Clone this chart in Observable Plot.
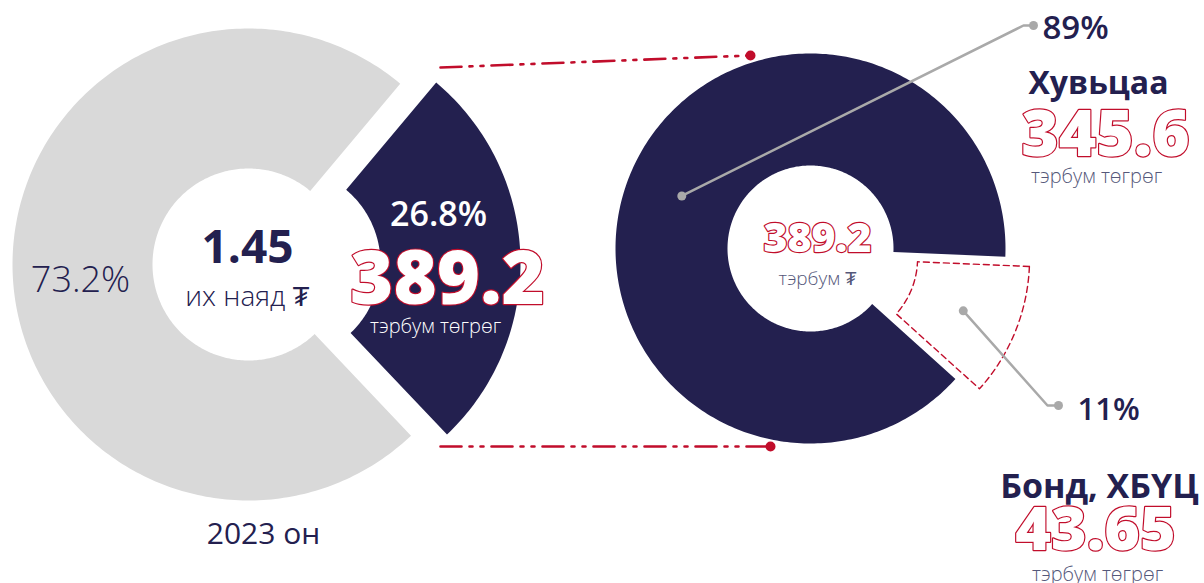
<!DOCTYPE html>
<html><head><meta charset="utf-8">
<script src="https://cdn.jsdelivr.net/npm/d3@7"></script>
<script src="https://cdn.jsdelivr.net/npm/@observablehq/plot@0.6"></script>
<style>html,body{margin:0;padding:0;background:#fff;} svg{display:block}</style>
</head><body><div id="chart"></div>
<script>
// ---- data ----
const yearLabel = "2023 он";
const totalTrillion = 1.45;
const totalUnit = "их наяд ₮";
const overviewCategories = ["Бусад", "Хувьцаа, бонд"];
const overviewShares = [73.2, 26.8];
const securitiesAmount = 389.2;
const amountUnit = "тэрбум төгрөг";
const shortUnit = "тэрбум ₮";
const breakdownCategories = ["Хувьцаа", "Бонд, ХБҮЦ"];
const breakdownShares = [89, 11];
const breakdownAmounts = [345.6, 43.65];

// ---- layout / style ----
const W = 1204, H = 583, deg = Math.PI / 180;
const NAVY = "#23204f", GREY = "#d9d9d9", RED = "#c10d2b", LEADER = "#a9a9a9", MUTED = "#55587a";
const leftPie = {cx: 248, cy: 264, R: 236, r: 96, start: 40 * deg, explode: 36};
const rightPie = {cx: 810, cy: 248, R: 195, r: 83, start: 92.4 * deg, explode: 26};

function ring(key, c, a0, a1, off) {
  const mid = (a0 + a1) / 2, ox = off * Math.sin(mid), oy = -off * Math.cos(mid);
  const n = Math.max(8, Math.ceil((a1 - a0) / deg));
  const pts = [];
  for (let i = 0; i <= n; i++) { const a = a0 + (a1 - a0) * i / n; pts.push({key, x: c.cx + ox + c.R * Math.sin(a), y: c.cy + oy - c.R * Math.cos(a)}); }
  for (let i = n; i >= 0; i--) { const a = a0 + (a1 - a0) * i / n; pts.push({key, x: c.cx + ox + c.r * Math.sin(a), y: c.cy + oy - c.r * Math.cos(a)}); }
  return pts;
}
function centroid(c, a0, a1, off) {
  const mid = (a0 + a1) / 2, rr = (c.R + c.r) / 2;
  return {x: c.cx + (off + rr) * Math.sin(mid), y: c.cy - (off + rr) * Math.cos(mid)};
}

// left pie: selected slice first (clockwise from start angle)
const leftArcs = d3.pie().sort(null).startAngle(leftPie.start).endAngle(leftPie.start + 2 * Math.PI)
  ([overviewShares[1], overviewShares[0]]);
const leftSel = ring(overviewCategories[1], leftPie, leftArcs[0].startAngle, leftArcs[0].endAngle, leftPie.explode);
const leftOther = ring(overviewCategories[0], leftPie, leftArcs[1].startAngle, leftArcs[1].endAngle, 0);

// right pie: small slice first
const rightArcs = d3.pie().sort(null).startAngle(rightPie.start).endAngle(rightPie.start + 2 * Math.PI)
  ([breakdownShares[1], breakdownShares[0]]);
const rightSmall = ring(breakdownCategories[1], rightPie, rightArcs[0].startAngle, rightArcs[0].endAngle, rightPie.explode);
const rightBig = ring(breakdownCategories[0], rightPie, rightArcs[1].startAngle, rightArcs[1].endAngle, 0);

const cBig = centroid(rightPie, rightArcs[1].startAngle, rightArcs[1].endAngle, 0);
const cSmall = centroid(rightPie, rightArcs[0].startAngle, rightArcs[0].endAngle, rightPie.explode);

const leaders = [
  {key: "big", x: cBig.x, y: cBig.y}, {key: "big", x: 1023, y: 25}, {key: "big", x: 1033, y: 25},
  {key: "small", x: cSmall.x, y: cSmall.y}, {key: "small", x: 1047, y: 405}, {key: "small", x: 1058, y: 405}
];
const leaderDots = [leaders[0], leaders[2], leaders[3], leaders[5]];

const connectors = [
  {key: "top", x: 440, y: 67}, {key: "top", x: 750, y: 55},
  {key: "bottom", x: 440, y: 446}, {key: "bottom", x: 770, y: 446}
];
const connectorDots = [connectors[1], connectors[3]];

const fmt1 = d3.format(".1f");
const labels = [
  {text: fmt1(overviewShares[0]) + "%", x: 80, y: 291, size: 36, weight: 300, fill: NAVY},
  {text: String(totalTrillion), x: 247, y: 262, size: 46, weight: 700, fill: NAVY},
  {text: totalUnit, x: 247, y: 305, size: 28, weight: 300, fill: NAVY},
  {text: yearLabel, x: 263, y: 543, size: 30, weight: 400, fill: NAVY},
  {text: fmt1(overviewShares[1]) + "%", x: 438, y: 225, size: 34, weight: 600, fill: "white"},
  {text: amountUnit, x: 435, y: 332, size: 20, weight: 300, fill: "white"},
  {text: shortUnit, x: 817, y: 284, size: 19, weight: 300, fill: MUTED},
  {text: breakdownShares[0] + "%", x: 1042, y: 38, size: 33, weight: 600, fill: NAVY, anchor: "start"},
  {text: breakdownCategories[0], x: 1098, y: 93, size: 32, weight: 700, fill: NAVY},
  {text: amountUnit, x: 1096, y: 182, size: 20, weight: 300, fill: MUTED},
  {text: breakdownShares[1] + "%", x: 1077, y: 419, size: 31, weight: 600, fill: NAVY, anchor: "start"},
  {text: breakdownCategories[1], x: 1099, y: 497, size: 34, weight: 700, fill: NAVY},
  {text: amountUnit, x: 1097, y: 580, size: 20, weight: 300, fill: MUTED}
];
const outlined = [
  {text: String(securitiesAmount), x: 447, y: 303, size: 74},
  {text: String(securitiesAmount), x: 817, y: 251, size: 41},
  {text: String(breakdownAmounts[0]), x: 1105, y: 155, size: 64},
  {text: String(breakdownAmounts[1]), x: 1095, y: 549, size: 61}
];

const textMarks = labels.map(d => Plot.text([d], {x: "x", y: "y", text: "text", fill: d.fill, fontSize: d.size,
  fontWeight: d.weight, textAnchor: d.anchor || "middle", lineAnchor: "bottom"}));
const outlineMarks = outlined.map(d => Plot.text([d], {x: "x", y: "y", text: "text", fill: "white", stroke: RED,
  strokeWidth: 2.4, paintOrder: "stroke", fontSize: d.size, fontWeight: 800, textAnchor: "middle", lineAnchor: "bottom"}));

const chart = Plot.plot({
  width: W, height: H, margin: 0, axis: null,
  x: {domain: [0, W], range: [0, W]},
  y: {domain: [0, H], range: [0, H]},
  style: {fontFamily: "'Open Sans', sans-serif", background: "white", overflow: "visible"},
  marks: [
    Plot.line(leftOther, {x: "x", y: "y", z: "key", fill: GREY, stroke: "none", curve: "linear-closed"}),
    Plot.line(leftSel, {x: "x", y: "y", z: "key", fill: NAVY, stroke: "none", curve: "linear-closed"}),
    Plot.line(rightBig, {x: "x", y: "y", z: "key", fill: NAVY, stroke: "none", curve: "linear-closed"}),
    Plot.line(rightSmall, {x: "x", y: "y", z: "key", fill: "none", stroke: RED, strokeWidth: 1.4, strokeDasharray: "6,4", curve: "linear-closed"}),
    Plot.line(connectors, {x: "x", y: "y", z: "key", stroke: RED, strokeWidth: 2.6, strokeDasharray: "21,8,3,8,3,8"}),
    Plot.dot(connectorDots, {x: "x", y: "y", r: 5, fill: RED}),
    Plot.line(leaders, {x: "x", y: "y", z: "key", stroke: LEADER, strokeWidth: 2.5}),
    Plot.dot(leaderDots, {x: "x", y: "y", r: 4.5, fill: LEADER}),
    ...textMarks,
    ...outlineMarks
  ]
});
document.getElementById("chart").append(chart);
</script>
</body></html>
